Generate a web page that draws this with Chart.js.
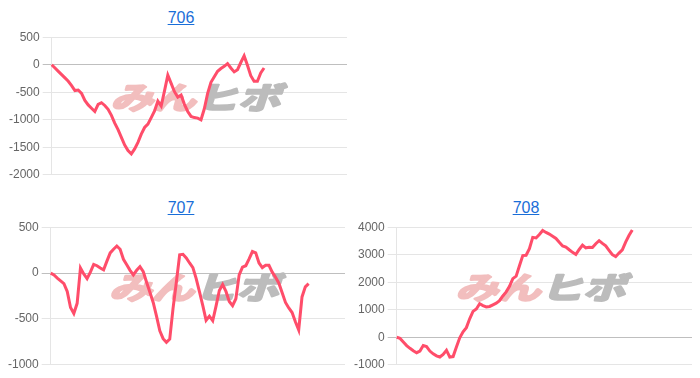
<!DOCTYPE html>
<html lang="ja">
<head>
  <meta charset="UTF-8">
  <title>706 / 707 / 708</title>
  <script src="https://cdn.jsdelivr.net/npm/chart.js"></script>
  <style>
    body { margin: 0; background: #fff; width: 700px; height: 378px; position: relative; overflow: hidden; }
    .title { position: absolute; width: 120px; margin-left: -60px; text-align: center;
             font: 16px "Liberation Sans", Arial, sans-serif; line-height: 18px; }
    .title a { color: #1a6ed8; text-decoration: underline; }
    .box { position: absolute; }
  </style>
</head>
<body>
  <div class="title" style="left:181px; top:9px;"><a href="#">706</a></div>
  <div class="title" style="left:181px; top:199px;"><a href="#">707</a></div>
  <div class="title" style="left:526px; top:199px;"><a href="#">708</a></div>

  <div class="box" style="left:0; top:27px; width:350px; height:158px;"><canvas id="c706"></canvas></div>
  <div class="box" style="left:0; top:217px; width:350px; height:158px;"><canvas id="c707"></canvas></div>
  <div class="box" style="left:350px; top:217px; width:350px; height:158px;"><canvas id="c708"></canvas></div>

  <script>
    // 90 slots on the x axis, the lines only fill part of it
    const slots = Array.from({ length: 90 }, (_, i) => String(i + 1));

    const yTicks706 = [500, 0, -500, -1000, -1500, -2000];
    const yTicks707 = [500, 0, -500, -1000];
    const yTicks708 = [4000, 3000, 2000, 1000, 0, -1000];

    const values706 = [0, -60, -120, -180, -240, -300, -380, -470, -460, -520,
      -650, -730, -790, -850, -720, -690, -740, -810, -920, -1060,
      -1180, -1320, -1460, -1560, -1620, -1530, -1410, -1260, -1140, -1080,
      -960, -840, -660, -750, -475, -190, -340, -490, -590, -550,
      -720, -850, -940, -960, -970, -1000, -800, -520, -320, -220,
      -120, -70, -30, 20, -60, -130, -90, 40, 160, -10,
      -200, -300, -300, -150, -60];

    const values707 = [0, -20, -55, -85, -115, -200, -375, -440, -330, 55,
      -10, -60, 10, 95, 80, 55, 35, 130, 220, 260,
      295, 260, 150, 90, 30, -20, 30, 70, 15, -100,
      -210, -320, -470, -630, -715, -755, -720, -385, -100, 200,
      205, 165, 110, 60, -60, -205, -355, -515, -470, -520,
      -360, -190, -125, -200, -310, -355, -280, -20, 65, 80,
      155, 235, 220, 110, 60, 85, 85, 10, -45, -110,
      -215, -320, -380, -430, -530, -620, -260, -150, -115];

    const values708 = [0, -40, -170, -300, -400, -490, -560, -500, -300, -340,
      -500, -600, -675, -715, -620, -470, -720, -700, -350, -20,
      200, 350, 670, 940, 1030, 1220, 1150, 1100, 1120, 1180,
      1240, 1330, 1500, 1650, 1850, 2130, 2220, 2600, 2970, 2980,
      3220, 3630, 3610, 3735, 3880, 3810, 3750, 3670, 3590, 3450,
      3320, 3280, 3180, 3085, 3010, 3190, 3350, 3250, 3270, 3260,
      3400, 3510, 3410, 3320, 3160, 3000, 2930, 3060, 3180, 3460,
      3700, 3900];

    Chart.defaults.font.family = "'Liberation Sans', Arial, sans-serif";
    Chart.defaults.font.size = 12;
    Chart.defaults.color = '#666';

    // faded logo behind the line
    const watermark = {
      id: 'watermark',
      beforeDatasetsDraw(chart) {
        const { ctx, chartArea: a } = chart;
        const cx = (a.left + a.right) / 2;
        const cy = (a.top + a.bottom) / 2 - 9;
        ctx.save();
        ctx.translate(cx, cy);
        ctx.transform(1.25, 0, -0.3, 0.9, 0, 0);
        ctx.font = "bold 34px 'Noto Sans CJK JP'";
        ctx.textBaseline = 'middle';
        ctx.lineWidth = 2.5;
        ctx.lineJoin = 'round';
        ctx.textAlign = 'right';
        ctx.fillStyle = ctx.strokeStyle = 'rgb(242, 190, 190)';
        ctx.strokeText('みん', 0, 0);
        ctx.fillText('みん', 0, 0);
        ctx.textAlign = 'left';
        ctx.fillStyle = ctx.strokeStyle = 'rgb(188, 188, 188)';
        ctx.strokeText('ヒボ', 0, 0);
        ctx.fillText('ヒボ', 0, 0);
        ctx.restore();
      }
    };

    function makeChart(id, values, ticks, padLeft, padRight) {
      new Chart(document.getElementById(id), {
        type: 'line',
        data: {
          labels: slots,
          datasets: [{
            data: values,
            borderColor: 'rgb(255, 77, 106)',
            borderWidth: 3,
            pointRadius: 0,
            tension: 0,
            fill: false
          }]
        },
        options: {
          responsive: true,
          maintainAspectRatio: false,
          animation: false,
          layout: { padding: { left: padLeft, right: padRight } },
          plugins: { legend: { display: false }, tooltip: { enabled: false } },
          scales: {
            x: { display: false },
            y: {
              min: Math.min(...ticks),
              max: Math.max(...ticks),
              ticks: { stepSize: ticks[0] - ticks[1], padding: 3, callback: v => String(v) },
              border: { color: 'rgba(0,0,0,0.1)' },
              grid: {
                tickLength: 9,
                color: c => c.tick && c.tick.value === 0 ? 'rgba(0,0,0,0.25)' : 'rgba(0,0,0,0.1)'
              }
            }
          }
        },
        plugins: [watermark]
      });
    }

    makeChart('c706', values706, yTicks706, 6, 3);
    makeChart('c707', values707, yTicks707, 5, 5);
    makeChart('c708', values708, yTicks708, 1, 8);
  </script>
</body>
</html>
